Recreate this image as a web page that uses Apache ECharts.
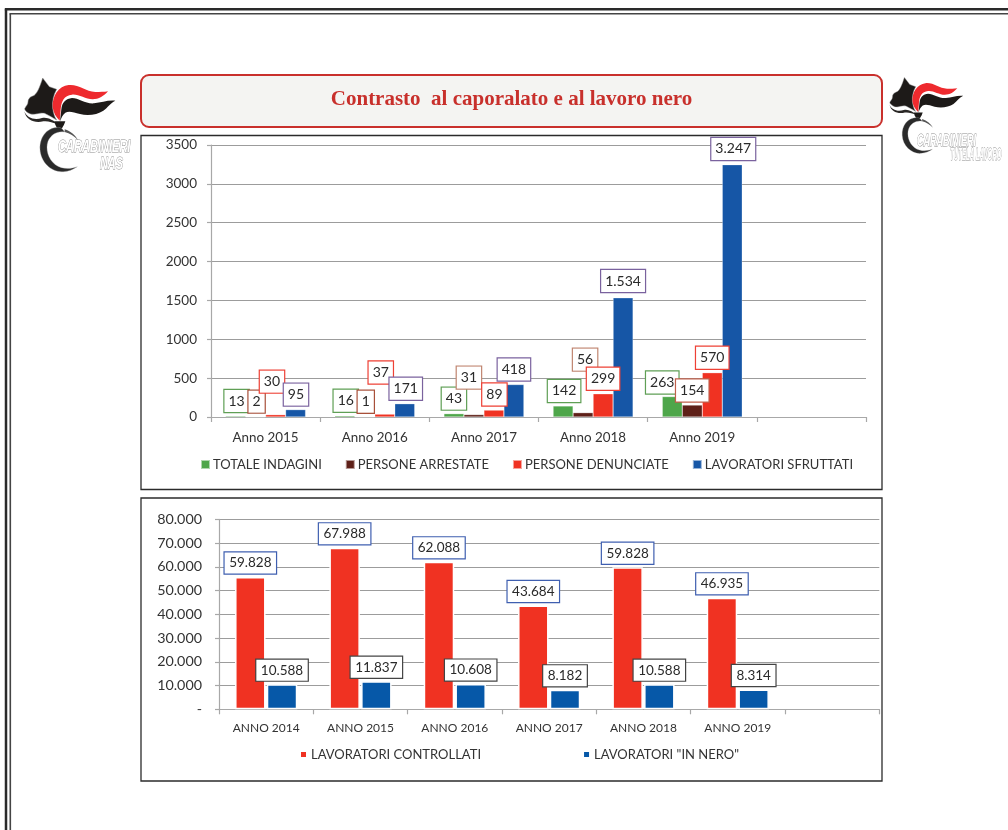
<!DOCTYPE html>
<html><head><meta charset="utf-8">
<style>html,body{margin:0;padding:0;background:#fff}#c{width:1008px;height:830px}</style>
<script src="https://cdn.jsdelivr.net/npm/echarts@6/dist/echarts.min.js"></script>
</head><body><div id="c"></div>
<script>
// ---- data, top chart
const anni = ['Anno 2015','Anno 2016','Anno 2017','Anno 2018','Anno 2019',''];
const totaleIndagini = [13,16,43,142,263];
const personeArrestate = [2,1,31,56,154];
const personeDenunciate = [30,37,89,299,570];
const lavoratoriSfruttati = [95,171,418,1534,3247];
// ---- data, bottom chart
const anniLavoro = ['ANNO 2014','ANNO 2015','ANNO 2016','ANNO 2017','ANNO 2018','ANNO 2019',''];
const controllatiAltezza = [55700,67988,62088,43684,59828,46935];   // bar heights
const controllatiEtichetta = [59828,67988,62088,43684,59828,46935]; // numbers printed in the boxes
const inNero = [10588,11837,10608,8182,10588,8314];
// ---- label nudges (layout only), px
const offTot = [[1,0],[1,0],[0,0],[1,0],[-10,1]];
const offArr = [[1,0],[1,0],[-5,-22],[2,-38],[0,0.5]];
const offDen = [[-3.6,-18],[-4,-26.6],[0.5,-0.6],[0,0],[0,0]];
const offSfr = [[0.4,0],[1,0],[0,0],[0,-1.8],[1,-0.7]];

const fmt = v => String(v).replace(/\B(?=(\d{3})+$)/g,'.');
const FONT = 'Lato';
const TXT = '#333';

function bar1(name, vals, color, off, borderFn){
  return {
    type:'bar', name, xAxisIndex:0, yAxisIndex:0, barWidth:20, barGap:0,
    itemStyle:{color, borderColor:'rgba(255,255,255,.55)', borderWidth:0.5},
    data: vals.map((v,i)=>({value:v,
      label:{offset:off[i], borderColor:borderFn(i)}})),
    label:{show:true, position:'top', distance:4, formatter:p=>fmt(p.value),
      fontFamily:FONT, fontSize:14, color:'#2a2a2a', backgroundColor:'#fff',
      borderWidth:1.2, padding:[4,4,4,4], height:14, lineHeight:14}
  };
}
function bar2(name, vals, printed, color, border){
  return {
    type:'bar', name, xAxisIndex:1, yAxisIndex:1, barWidth:30.5, barGap:'4%',
    itemStyle:{color, borderColor:'#fff', borderWidth:1.5},
    data: vals,
    label:{show:true, position:'top', distance:3.5,
      formatter:p=>fmt(printed[p.dataIndex]),
      fontFamily:FONT, fontSize:13.5, color:'#2a2a2a', backgroundColor:'#fff',
      borderColor:border, borderWidth:1.2, padding:[3.5,4.5,3.5,4.5], height:14, lineHeight:14}
  };
}
function yAxis(grid,max,interval,formatter,size,margin){
  return {type:'value', gridIndex:grid, min:0, max, interval,
    axisLine:{show:true,lineStyle:{color:'#a8a8a8',width:1.2}},
    axisTick:{show:true,length:4,lineStyle:{color:'#a8a8a8',width:1.2}},
    splitLine:{show:true,lineStyle:{color:'#9c9c9c',width:1.2}},
    axisLabel:{fontFamily:FONT,fontSize:size,color:TXT,margin,formatter}};
}
function xAxis(grid,data,size,margin){
  return {type:'category', gridIndex:grid, data,
    axisLine:{lineStyle:{color:'#a8a8a8',width:1.2}},
    axisTick:{show:true,length:5,alignWithLabel:false,lineStyle:{color:'#a8a8a8',width:1.2}},
    axisLabel:{fontFamily:FONT,fontSize:size,color:TXT,margin,interval:0}};
}

// ---- decorations: page frame, panels, title box, logos
function line(x1,y1,x2,y2,w,c){return {type:'line',silent:true,z:0,shape:{x1,y1,x2,y2},style:{stroke:c,lineWidth:w}};}
const flame = {
  black1:'M68 24 L88 50 L110 58 C100 75 96 95 98 115 C100 130 104 142 110 150 C96 142 86 136 74 130 C60 126 46 136 32 132 C22 128 14 122 14 116 C18 108 24 104 24 96 C24 88 28 82 38 78 C50 76 60 50 68 24 Z',
  swoosh:'M13 124 C20 144 44 152 66 144 C82 140 98 150 116 162 C96 158 84 152 70 154 C46 160 18 152 13 124 Z',
  red:'M98 112 C96 78 116 48 146 45 C176 42 196 64 226 66 C240 66 252 66 264 64 C252 78 236 88 218 88 C196 88 176 72 156 74 C132 76 124 94 122 118 C121 132 120 144 119 152 C108 142 100 128 98 112 Z',
  black2:'M124 118 C126 96 138 86 156 84 C176 84 196 102 222 100 C244 98 262 90 286 92 C270 100 264 112 250 122 C232 134 204 138 180 132 C160 126 146 122 136 128 C128 134 124 144 120 154 Z',
  nozzle:'M103 154 L136 154 L132 164 L125 176 L112 176 L106 164 Z',
  ring:'M116 172 C78 172 58 205 60 238 C62 278 96 308 130 305 C146 304 160 298 172 290 C150 298 126 298 106 284 C84 268 76 236 84 214 C92 194 112 182 134 186 C128 178 124 172 116 172 Z',
  ring2:'M134 178 C152 184 166 196 174 210 C162 198 150 190 134 186 Z'
};
Object.keys(flame).forEach(k=>echarts.graphic.registerShape('logo_'+k, echarts.graphic.extendPath(flame[k],{})));
function logo(ox,oy,s,t1,t1x,t1y,t1w,t2,t2x,t2y,t2w){
  const grp = {type:'group',x:ox,y:oy,scaleX:s,scaleY:s,silent:true,z:3,children:[
    {type:'logo_black1',style:{fill:'#1d1a18',stroke:'#8a8a8a',lineWidth:1.5}},
    {type:'logo_swoosh',style:{fill:'#2a2725'}},
    {type:'logo_black2',style:{fill:'#1d1a18'}},
    {type:'logo_red',style:{fill:'#ee2a2e'}},
    {type:'logo_nozzle',style:{fill:'#1d1a18'}},
    {type:'logo_ring',style:{fill:'#2a2a2a',stroke:'#aaa',lineWidth:1}},
    {type:'logo_ring2',style:{fill:'#555'}}
  ]};
  const txt = (text,x,y,sc)=>({type:'text',x,y,scaleX:sc,silent:true,z:4,
    style:{text,font:'italic bold 17px "Liberation Sans"',fill:'#fff',stroke:'#8c8c8c',lineWidth:0.9,textVerticalAlign:'middle'}});
  return [grp, txt(t1,t1x,t1y,t1w), txt(t2,t2x,t2y,t2w)];
}
const graphic = [
  line(6,9.3,6,830,2.5,'#2a2a2a'), line(10.3,13.8,10.3,830,1.6,'#444'),
  line(4.8,9.3,1008,9.3,2.5,'#2a2a2a'), line(9.5,13.8,1008,13.8,1.6,'#444'),
  {type:'rect',silent:true,z:0,shape:{x:141,y:75,width:741,height:52,r:8},style:{fill:'#f4f4f2',stroke:'#c9302c',lineWidth:2}},
  {type:'text',silent:true,z:1,x:511.5,y:99.5,style:{text:'Contrasto  al caporalato e al lavoro nero',font:'bold 21px "Liberation Serif"',fill:'#c8302c',textAlign:'center',textVerticalAlign:'middle'}},
  {type:'rect',silent:true,z:0,shape:{x:141,y:135.5,width:741,height:354},style:{fill:'#fff',stroke:'#2b2b2b',lineWidth:1.3}},
  {type:'rect',silent:true,z:0,shape:{x:141,y:498,width:741,height:283},style:{fill:'#fff',stroke:'#2b2b2b',lineWidth:1.3}},
  ...logo(20,70,1/3,'CARABINIERI',58,147,0.65,'NAS',100,164,0.64),
  ...logo(886,71,0.27,'CARABINIERI',917,141.5,0.53,'TUTELA LAVORO',950,155.5,0.36)
];

const option = {
  animation:false,
  graphic,
  grid:[
    {left:211,right:142,top:145,height:272,containLabel:false},
    {left:219,right:128.7,top:519.3,height:190,containLabel:false}
  ],
  xAxis:[xAxis(0,anni,13.4,14),xAxis(1,anniLavoro,12,12.5)],
  yAxis:[
    yAxis(0,3500,500,v=>String(v),13.5,14),
    yAxis(1,80000,10000,v=>v===0?'-':fmt(v),14.3,17)
  ],
  legend:[
    {left:200,top:458,padding:0,icon:'rect',itemWidth:9,itemHeight:9,itemGap:23,
     textStyle:{fontFamily:FONT,fontSize:13,color:TXT,padding:[0,0,0,-2]},
     data:['TOTALE INDAGINI','PERSONE ARRESTATE','PERSONE DENUNCIATE','LAVORATORI SFRUTTATI']},
    {left:299,top:748,padding:0,icon:'rect',itemWidth:7,itemHeight:7,itemGap:101,
     textStyle:{fontFamily:FONT,fontSize:13,color:TXT,padding:[0,0,0,-1]},
     data:['LAVORATORI CONTROLLATI','LAVORATORI "IN NERO"']}
  ],
  series:[
    bar1('TOTALE INDAGINI',totaleIndagini,'#4ea64a',offTot,()=>'#5f9f55'),
    bar1('PERSONE ARRESTATE',personeArrestate,'#5e2018',offArr,i=>['#a8503a','#a8503a','#c08570','#c08570','#c0604c'][i]),
    bar1('PERSONE DENUNCIATE',personeDenunciate,'#f03222',offDen,()=>'#ee4035'),
    bar1('LAVORATORI SFRUTTATI',lavoratoriSfruttati,'#1656a6',offSfr,()=>'#7a629e'),
    bar2('LAVORATORI CONTROLLATI',controllatiAltezza,controllatiEtichetta,'#f03222','#3f5fb0'),
    bar2('LAVORATORI "IN NERO"',inNero,inNero,'#0658a8','#444')
  ]
};
echarts.init(document.getElementById('c')).setOption(option);
</script></body></html>
